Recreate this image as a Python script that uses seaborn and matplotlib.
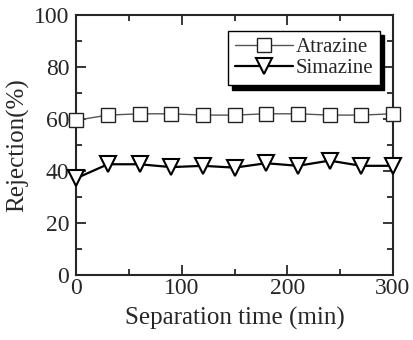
import matplotlib
matplotlib.use("Agg")
import matplotlib.pyplot as plt
import seaborn as sns
import pandas as pd
from matplotlib.ticker import MultipleLocator

time_min = [0, 30, 60, 90, 120, 150, 180, 210, 240, 270, 300]
atrazine = [59.5, 61.5, 62, 62, 61.5, 61.5, 62, 62, 61.5, 61.5, 62]
simazine = [37.2, 42.6, 42.6, 41.5, 42, 41.3, 43, 42, 44, 42, 42]

sns.set_style("ticks")
plt.rcParams['font.family'] = ['Liberation Serif', 'DejaVu Serif']

df = pd.concat([
    pd.DataFrame({"t": time_min, "r": atrazine, "s": "Atrazine"}),
    pd.DataFrame({"t": time_min, "r": simazine, "s": "Simazine"}),
])

fig = plt.figure(figsize=(4.14, 3.4), dpi=100)
ax = fig.add_axes([0.184, 0.191, 0.765, 0.765])

sns.lineplot(data=df[df.s == "Atrazine"], x="t", y="r", ax=ax, color="#555555",
             lw=1.0, marker="s", markersize=10.5, markerfacecolor="white",
             markeredgecolor="#222222", markeredgewidth=1.0, label="Atrazine",
             clip_on=False, zorder=5)
sns.lineplot(data=df[df.s == "Simazine"], x="t", y="r", ax=ax, color="black",
             lw=1.6, marker="v", markersize=11, markerfacecolor="white",
             markeredgecolor="black", markeredgewidth=1.5, label="Simazine",
             clip_on=False, zorder=5)

ax.set_xlim(0, 300)
ax.set_ylim(0, 100)
ax.xaxis.set_major_locator(MultipleLocator(100))
ax.xaxis.set_minor_locator(MultipleLocator(50))
ax.yaxis.set_major_locator(MultipleLocator(20))
ax.yaxis.set_minor_locator(MultipleLocator(10))
ax.tick_params(which="both", direction="in", top=True, right=True, width=1.3)
ax.tick_params(which="major", length=7, labelsize=17)
ax.tick_params(which="minor", length=4)
ax.tick_params(axis="y", which="major", pad=5)
ax.tick_params(axis="x", which="major", pad=2)
for sp in ax.spines.values():
    sp.set_linewidth(1.5)
ax.set_xlabel("Separation time (min)", fontsize=18, labelpad=6)
ax.set_ylabel("Rejection(%)", fontsize=18, labelpad=3)

leg = ax.legend(loc="upper right", bbox_to_anchor=(0.96, 0.94), fontsize=15,
                frameon=True, fancybox=False,
                shadow={"color": "black", "alpha": 1, "ox": 3, "oy": -3},
                edgecolor="black", handlelength=2.8, handletextpad=0.1,
                borderpad=0.35, labelspacing=0.05, borderaxespad=0)
leg.get_frame().set_linewidth(1.0)
leg.set_zorder(10)

fig.savefig("out.png", dpi=100)
